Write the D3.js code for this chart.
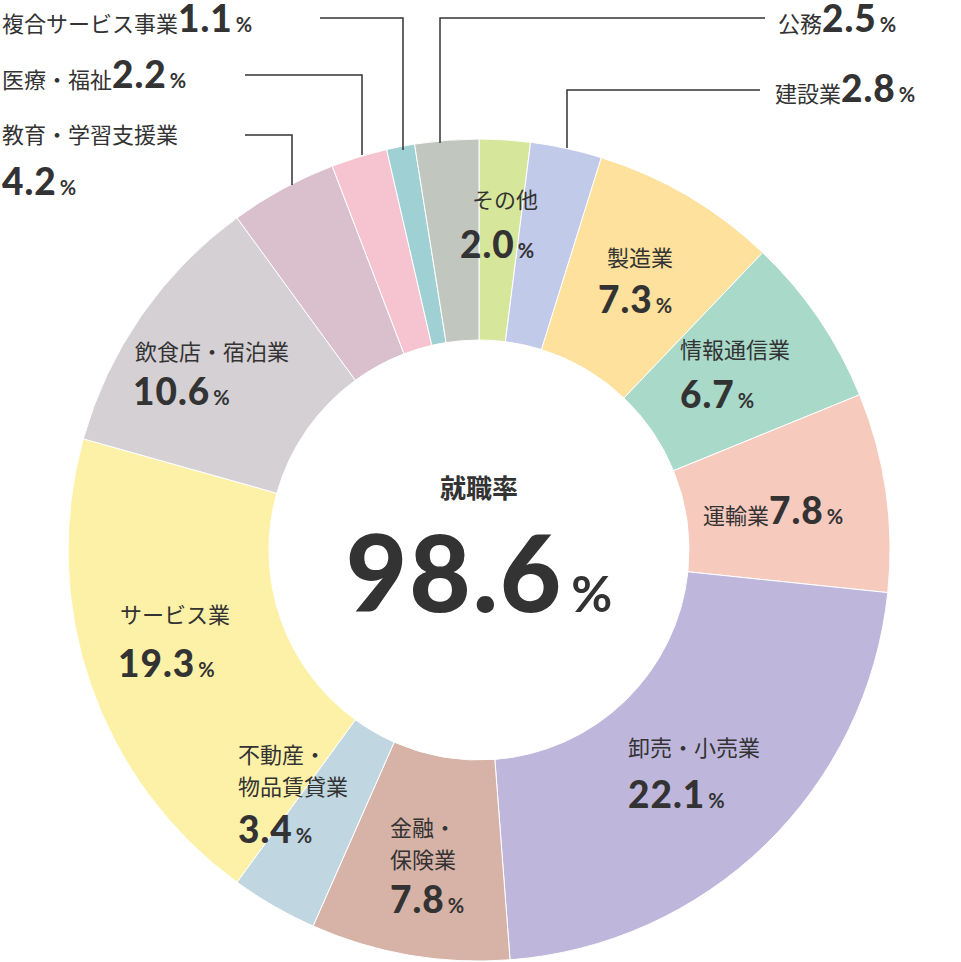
<!DOCTYPE html>
<html><head><meta charset="utf-8">
<script src="https://cdn.jsdelivr.net/npm/d3@7"></script>
<style>body{margin:0;background:#fff}text{font-family:"Noto Sans CJK JP","Noto Sans",sans-serif;fill:#333}</style>
</head><body><svg id="c" width="961" height="962"></svg>
<script>
const categories=["その他","建設業","製造業","情報通信業","運輸業","卸売・小売業","金融・保険業","不動産・物品賃貸業","サービス業","飲食店・宿泊業","教育・学習支援業","医療・福祉","複合サービス事業","公務"];
const values=[2.0,2.8,7.3,6.7,7.8,22.1,7.8,3.4,19.3,10.6,4.2,2.2,1.1,2.5];
const colors=["#d6e69b","#c2cae9","#fde19c","#a9d9c9","#f7cabe","#beb7db","#d6b2a7","#c0d6e1","#fdf1a8","#d4d0d3","#d9c0cc","#f6c4d1","#9fd0d4","#c1c7be"];
const rate="98.6";
const labelLayout=[
 {names:["その他"],x:505,y:208,vx:460,vy:258,a:"middle",va:"start"},
 {names:["建設業"],x:775,y:102,inline:true,a:"start",leader:[[760,90],[567,90],[567,148]]},
 {names:["製造業"],x:640,y:266,vx:598,vy:313,a:"middle",va:"start"},
 {names:["情報通信業"],x:680,y:358,vx:680,vy:408,a:"start",va:"start"},
 {names:["運輸業"],x:703,y:524,inline:true,a:"start"},
 {names:["卸売・小売業"],x:628,y:756,vx:628,vy:808,a:"start",va:"start"},
 {names:["金融・","保険業"],x:390,y:836,vx:390,vy:913,a:"start",va:"start"},
 {names:["不動産・","物品賃貸業"],x:238,y:763,vx:238,vy:843,a:"start",va:"start"},
 {names:["サービス業"],x:120,y:623,vx:118,vy:677,a:"start",va:"start"},
 {names:["飲食店・宿泊業"],x:135,y:360,vx:133,vy:405,a:"start",va:"start"},
 {names:["教育・学習支援業"],x:2,y:143,vx:2,vy:195,a:"start",va:"start",leader:[[245,135],[292,135],[292,185]]},
 {names:["医療・福祉"],x:2,y:88,inline:true,a:"start",leader:[[245,75],[362,75],[362,155]]},
 {names:["複合サービス事業"],x:2,y:32,inline:true,a:"start",leader:[[320,18],[403,18],[403,150]]},
 {names:["公務"],x:778,y:32,inline:true,a:"start",leader:[[765,18],[440,18],[440,143]]}
];
const svg=d3.select("#c");
const cx=479,cy=550,R=411,r=210;
const data=categories.map((c,i)=>({c,v:values[i],col:colors[i],L:labelLayout[i]}));
const pie=d3.pie().sort(null).value(d=>d.v)(data);
const arc=d3.arc().innerRadius(r).outerRadius(R);
const g=svg.append("g").attr("transform",`translate(${cx},${cy})`);
g.selectAll("path").data(pie).join("path").attr("d",arc).attr("fill",d=>d.data.col).attr("stroke","#fff").attr("stroke-width",1);
const line=d3.line();
data.forEach(d=>{
 const L=d.L;
 if(L.leader) svg.append("path").attr("d",line(L.leader)).attr("fill","none").attr("stroke","#333").attr("stroke-width",1.5);
 const addNum=(t)=>{
  t.append("tspan").attr("font-size",37).attr("font-weight",900).attr("font-family","Lato,sans-serif").attr("letter-spacing",1).text(d.v.toFixed(1));
  t.append("tspan").attr("font-size",20).attr("font-weight",700).attr("font-family","Lato,sans-serif").attr("dx",3).text("%");
 };
 if(L.inline){
  const t=svg.append("text").attr("x",L.x).attr("y",L.y).attr("font-size",22);
  t.append("tspan").text(L.names[0]);
  t.append("tspan").attr("dx",10).text("");
  addNum(t);
 } else {
  L.names.forEach((n,i)=>svg.append("text").attr("x",L.x).attr("y",L.y+i*32).attr("font-size",22).attr("text-anchor",L.a).text(n));
  addNum(svg.append("text").attr("x",L.vx).attr("y",L.vy));
 }
});
svg.append("text").attr("x",cx).attr("y",498).attr("text-anchor","middle").attr("font-size",26).attr("font-weight",700).text("就職率");
const ct=svg.append("text").attr("x",cx).attr("y",612).attr("text-anchor","middle");
ct.append("tspan").attr("font-size",106).attr("font-weight",900).attr("font-family","Lato,sans-serif").attr("letter-spacing",2).text(rate);
ct.append("tspan").attr("font-size",50).attr("font-weight",700).attr("font-family","Lato,sans-serif").attr("dx",8).text("%");
</script></body></html>
